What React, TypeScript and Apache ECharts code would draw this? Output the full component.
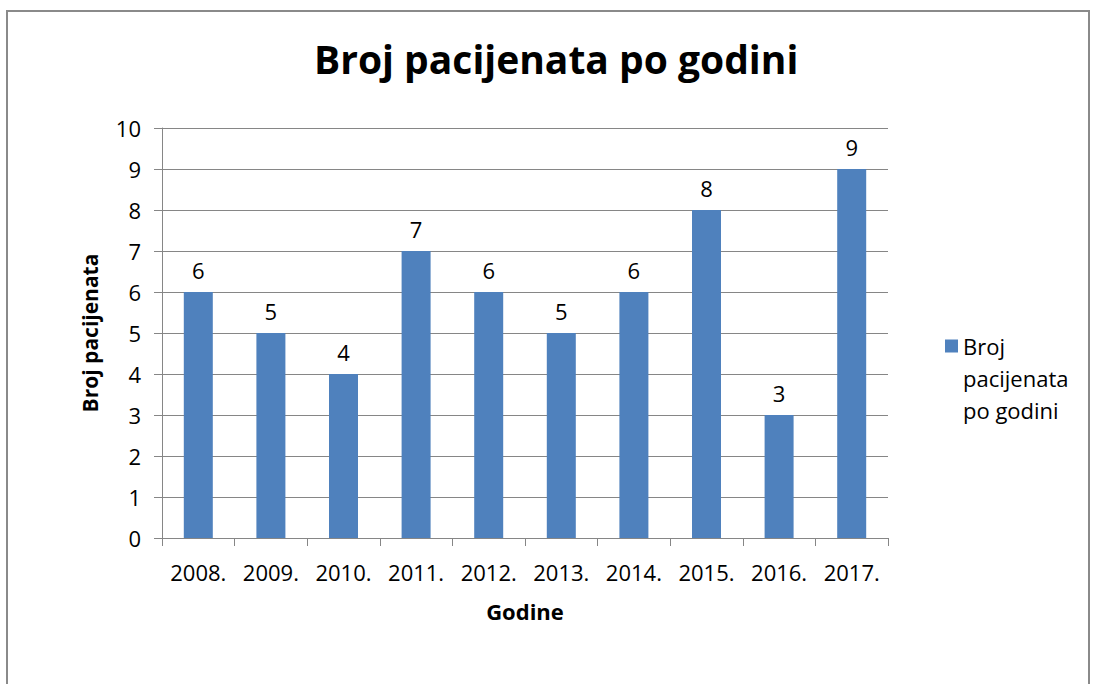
import React, { useEffect, useRef } from "react";
import * as echarts from "echarts";

const categories = ["2008.", "2009.", "2010.", "2011.", "2012.", "2013.", "2014.", "2015.", "2016.", "2017."];
const values = [6, 5, 4, 7, 6, 5, 6, 8, 3, 9];
const seriesName = "Broj pacijenata po godini";
const legendLines = ["Broj", "pacijenata", "po godini"];
const titleText = "Broj pacijenata po godini";
const yAxisName = "Broj pacijenata";
const xAxisName = "Godine";

const FONT = "'Open Sans', sans-serif";

export default function App() {
  const ref = useRef<HTMLDivElement>(null);
  useEffect(() => {
    if (!ref.current) return;
    const chart = echarts.init(ref.current, undefined, { renderer: "svg" });
    chart.setOption({
      animation: false,
      backgroundColor: "#ffffff",
      textStyle: { fontFamily: FONT },
      title: {
        text: titleText,
        left: 309,
        top: 34,
        textStyle: { fontSize: 39, fontWeight: "bold", color: "#000", fontFamily: FONT },
      },
      graphic: [
        {
          type: "rect",
          shape: { x: 7, y: 11, width: 1082, height: 700 },
          style: { fill: "none", stroke: "#8a8a8a", lineWidth: 2 },
        },
      ],
      legend: {
        left: 940,
        top: 261,
        orient: "vertical",
        itemWidth: 13,
        itemHeight: 13,
        itemGap: 5,
        icon: "rect",
        formatter: () => "\n\n" + legendLines.join("\n"),
        textStyle: { fontSize: 22, color: "#000", lineHeight: 32, fontFamily: FONT },
        data: [seriesName],
      },
      grid: { left: 162, right: 206, top: 128, bottom: 146 },
      xAxis: {
        type: "category",
        data: categories,
        name: xAxisName,
        nameLocation: "middle",
        nameGap: 62,
        nameTextStyle: { fontSize: 22, fontWeight: "bold", color: "#000", fontFamily: FONT },
        axisLine: { lineStyle: { color: "#868686" } },
        axisTick: { show: true, interval: 0, length: 8, lineStyle: { color: "#868686" } },
        axisLabel: { interval: 0, fontSize: 22, color: "#000", margin: 23, fontFamily: FONT },
      },
      yAxis: {
        type: "value",
        min: 0,
        max: 10,
        interval: 1,
        name: yAxisName,
        nameLocation: "middle",
        nameGap: 62,
        nameRotate: 90,
        nameTextStyle: { fontSize: 21, fontWeight: "bold", color: "#000", fontFamily: FONT },
        axisLine: { show: true, lineStyle: { color: "#868686" } },
        axisTick: { show: true, length: 8, lineStyle: { color: "#868686" } },
        splitLine: { lineStyle: { color: "#868686" } },
        axisLabel: { fontSize: 22, color: "#000", margin: 21, fontFamily: FONT },
      },
      series: [
        {
          name: seriesName,
          type: "bar",
          data: values,
          barWidth: 29,
          itemStyle: { color: "#4F81BD" },
          label: {
            show: true,
            position: "top",
            distance: 11,
            fontSize: 22,
            color: "#000",
            fontFamily: FONT,
          },
        },
      ],
    });
    return () => chart.dispose();
  }, []);
  return (
    <div
      ref={ref}
      style={{ position: "fixed", left: 0, top: 0, width: 1094, height: 684 }}
    />
  );
}
